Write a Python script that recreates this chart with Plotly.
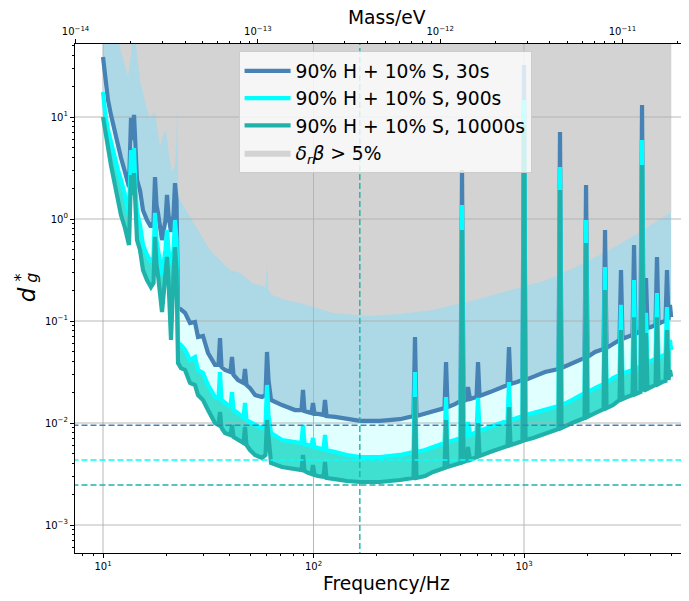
import plotly.graph_objects as go

# ---------------- data ----------------
freq_hz = [10.0, 10.22, 10.56, 10.91, 11.40, 11.78, 12.18, 12.72, 13.29, 13.59,
           13.81, 14.04, 14.27, 14.51, 14.99, 15.49, 16.18, 16.90, 17.38, 17.66,
           17.96, 18.25, 19.07, 19.81, 20.14, 20.47, 21.04, 21.63, 21.98, 22.35,
           22.72, 23.48, 24.53, 25.91, 27.35, 28.27, 29.85, 31.54, 34.04, 35.38,
           35.96, 36.56, 37.98, 40.34, 41.0, 41.69, 43.78, 46.5, 47.27, 48.05,
           49.93, 52.74, 56.92, 59.16, 60.14, 61.13, 62.83, 70.87, 81.69, 87.7,
           89.16, 90.64, 94.2, 97.8, 99.45, 101.1, 105.1, 111.6, 113.4, 115.3,
           126.5, 144.2, 166.3, 207.0, 257.6, 298.6, 303.5, 308.5, 338.6, 369.6,
           419.2, 426.2, 433.3, 470.0, 499.3, 507.6, 516.0, 530.3, 542.0, 554.0,
           594.9, 604.8, 614.8, 689.5, 769.1, 834.9, 848.7, 862.9, 926.2, 983.7,
           1000, 1016.5, 1104, 1258.6, 1458.6, 1482.5, 1506.8, 1690.4, 1939, 1971,
           2003.9, 2174.7, 2386.6, 2426, 2466, 2647.6, 2842.3, 2889, 2937, 3086,
           3277, 3332, 3386, 3480, 3576, 3636, 3696, 3736, 3798, 3861,
           4011, 4214, 4283, 4355, 4524, 4700, 4778, 4858, 4938, 5000]

d_30s = [38.7, 24.1, 14.7, 10.5, 7.13, 4.97, 3.96, 2.89, 2.06, 9.8,
         5.95, 10.5, 3.79, 2.41, 1.92, 1.22, 0.977, 0.835, 0.935, 2.58,
         1.37, 1.15, 0.622, 0.977, 1.72, 1.09, 0.746, 1.09, 2.25, 1.53,
         0.137, 0.128, 0.120, 0.0955, 0.0977, 0.0697, 0.0713, 0.0486, 0.0371, 0.0371,
         0.0681, 0.0354, 0.0331, 0.0316, 0.0444, 0.0296, 0.0264, 0.0247, 0.0338, 0.0236,
         0.0220, 0.0188, 0.0180, 0.0188, 0.0497, 0.0264, 0.0168, 0.0150, 0.0134, 0.0134,
         0.0211, 0.0131, 0.0128, 0.0125, 0.0157, 0.0123, 0.0123, 0.0120, 0.0168, 0.0117,
         0.0115, 0.0109, 0.0105, 0.0105, 0.0109, 0.0117, 0.0697, 0.0117, 0.0123, 0.0128,
         0.0140, 0.0396, 0.0143, 0.0153, 0.0164, 3.02, 0.0164, 0.0168, 0.0225, 0.0172,
         0.0180, 0.0396, 0.0184, 0.0201, 0.0220, 0.0236, 0.0556, 0.0241, 0.0252, 0.0264,
         32.4, 0.0264, 0.0283, 0.0316, 0.0338, 7.13, 0.0346, 0.0387, 0.0434, 2.15,
         0.0444, 0.0497, 0.0531, 0.780, 0.0543, 0.0595, 0.0651, 0.316, 0.0667, 0.0697,
         0.0729, 0.556, 0.0746, 0.0763, 0.0798, 13.1, 0.0817, 0.0836, 0.264, 0.0854,
         0.0874, 0.0914, 0.424, 0.0935, 0.0977, 0.100, 0.316, 0.102, 0.144, 0.109]

d_900s = [17.6, 11.2, 7.46, 5.56, 4.06, 3.02, 2.41, 1.72, 1.09, 4.74,
          3.16, 4.97, 1.92, 1.17, 0.873, 0.556, 0.444, 0.378, 0.424, 1.15,
          0.622, 0.520, 0.282, 0.497, 0.780, 0.497, 0.354, 0.497, 0.977, 0.622,
          0.0608, 0.0582, 0.0520, 0.0415, 0.0444, 0.0331, 0.0309, 0.0236, 0.0180, 0.0176,
          0.0316, 0.0168, 0.0157, 0.0143, 0.0201, 0.0134, 0.0125, 0.0112, 0.0157, 0.0107,
          0.0102, 0.00955, 0.00893, 0.00955, 0.0236, 0.0120, 0.00798, 0.00681, 0.00652, 0.00637,
          0.00955, 0.00622, 0.00608, 0.00595, 0.00713, 0.00582, 0.00569, 0.00556, 0.00762, 0.00543,
          0.00520, 0.00486, 0.00464, 0.00464, 0.00486, 0.00520, 0.0316, 0.00520, 0.00543, 0.00582,
          0.00637, 0.0180, 0.00652, 0.00681, 0.00713, 1.37, 0.00729, 0.00746, 0.0102, 0.00762,
          0.00817, 0.0176, 0.00835, 0.00914, 0.00977, 0.0105, 0.0252, 0.0107, 0.0112, 0.0117,
          14.7, 0.0120, 0.0125, 0.0134, 0.0147, 3.24, 0.0150, 0.0168, 0.0197, 0.977,
          0.0201, 0.0220, 0.0241, 0.338, 0.0247, 0.0276, 0.0296, 0.144, 0.0302, 0.0316,
          0.0331, 0.252, 0.0338, 0.0346, 0.0362, 5.95, 0.0371, 0.0379, 0.120, 0.0387,
          0.0406, 0.0424, 0.188, 0.0434, 0.0454, 0.0475, 0.137, 0.0497, 0.0651, 0.0520]

d_10000s = [10.0, 7.46, 4.97, 3.38, 2.15, 1.53, 1.09, 0.817, 0.556, 2.70,
            1.72, 2.82, 1.09, 0.622, 0.497, 0.316, 0.252, 0.215, 0.236, 0.667,
            0.354, 0.282, 0.1225, 0.252, 0.424, 0.252, 0.0651, 0.282, 0.531, 0.316,
            0.0387, 0.0346, 0.0331, 0.0247, 0.0236, 0.0188, 0.0168, 0.0134, 0.0100, 0.00955,
            0.0128, 0.00893, 0.00798, 0.00762, 0.00955, 0.00729, 0.00681, 0.00637, 0.00914, 0.00608,
            0.00543, 0.00486, 0.00454, 0.00486, 0.0107, 0.00681, 0.00405, 0.00370, 0.00354, 0.00346,
            0.00486, 0.00338, 0.00324, 0.00316, 0.00387, 0.00309, 0.00302, 0.00296, 0.00415, 0.00289,
            0.00282, 0.00270, 0.00264, 0.00264, 0.00276, 0.00289, 0.0180, 0.00289, 0.00302, 0.00331,
            0.00362, 0.0107, 0.00370, 0.00387, 0.00405, 0.780, 0.00415, 0.00424, 0.00582, 0.00434,
            0.00464, 0.0100, 0.00475, 0.00520, 0.00556, 0.00595, 0.0143, 0.00608, 0.00637, 0.00667,
            8.35, 0.00681, 0.00713, 0.00780, 0.00873, 1.92, 0.00893, 0.0100, 0.0112, 0.582,
            0.0115, 0.0125, 0.0137, 0.201, 0.0140, 0.0150, 0.0168, 0.0817, 0.0172, 0.0180,
            0.0188, 0.109, 0.0192, 0.0197, 0.0201, 3.38, 0.0206, 0.0211, 0.0763, 0.0216,
            0.0225, 0.0236, 0.109, 0.0241, 0.0252, 0.0258, 0.0817, 0.0264, 0.0331, 0.0283]

# lower edge of the "delta_r beta > 5%" region
freq_gray = [11.91, 12.58, 13.15, 13.59, 13.73, 14.19, 14.43, 14.99, 15.49, 16.18,
             16.73, 17.66, 18.05, 18.66, 19.28, 19.92, 20.58, 21.27, 21.98, 22.35,
             22.46, 22.59, 22.84, 23.99, 25.91, 28.89, 32.2, 34.8, 40.1, 44.75,
             51.05, 59.16, 60.14, 61.13, 63.5, 73.2, 86.3, 103.9, 123.8, 179.6,
             257.6, 369.6, 480.6, 536, 769.1, 1286, 1845, 2648, 3556, 5000]
gray_edge = [52, 34.6, 24.7, 40.6, 71.3, 71.3, 45.4, 23.1, 17.6, 11.7,
             9.78, 11.2, 7.98, 5.08, 6.67, 7.46, 4.24, 2.82, 3.38, 5.95,
             12.5, 5.95, 1.64, 1.37, 1.05, 0.730, 0.497, 0.424, 0.316, 0.296,
             0.236, 0.215, 0.354, 0.201, 0.180, 0.161, 0.150, 0.134, 0.120, 0.112,
             0.117, 0.128, 0.147, 0.153, 0.188, 0.252, 0.354, 0.520, 0.746, 1.17]

# reference levels (minima) and the frequency of the best sensitivity
min_30s = 0.0095
min_900s = 0.00434
min_10000s = 0.00247
f_best = 166.0

names = ["90% H + 10% S, 30s", "90% H + 10% S, 900s", "90% H + 10% S, 10000s"]
gray_name = "<i>δ<sub>r</sub>β</i> > 5%"

x_ticks = [10, 100, 1000]
x_ticktext = ["10<sup>1</sup>", "10<sup>2</sup>", "10<sup>3</sup>"]
y_ticks = [1e-3, 1e-2, 1e-1, 1, 10]
y_ticktext = ["10<sup>−3</sup>", "10<sup>−2</sup>", "10<sup>−1</sup>", "10<sup>0</sup>", "10<sup>1</sup>"]
mass_ticks = [1e-14, 1e-13, 1e-12, 1e-11]
mass_ticktext = ["10<sup>−14</sup>", "10<sup>−13</sup>", "10<sup>−12</sup>", "10<sup>−11</sup>"]

# ---------------- styling ----------------
C30, C900, C1e4 = "#4682B4", "#00FFFF", "#20B2AA"
FONT = "DejaVu Sans"
ceiling = 1e4
GRID = "#b0b0b0"

fig = go.Figure()

# filled bands
fig.add_trace(go.Scatter(x=freq_hz, y=[ceiling] * len(freq_hz), mode="lines",
                         line=dict(width=0), showlegend=False, hoverinfo="skip"))
fig.add_trace(go.Scatter(x=freq_hz, y=d_30s, mode="lines", line=dict(width=0),
                         fill="tonexty", fillcolor="#ADD8E6", showlegend=False, hoverinfo="skip"))
fig.add_trace(go.Scatter(x=freq_hz, y=d_900s, mode="lines", line=dict(width=0),
                         fill="tonexty", fillcolor="#E0FFFF", showlegend=False, hoverinfo="skip"))
fig.add_trace(go.Scatter(x=freq_hz, y=d_10000s, mode="lines", line=dict(width=0),
                         fill="tonexty", fillcolor="#40E0D0", showlegend=False, hoverinfo="skip"))
fig.add_trace(go.Scatter(x=freq_gray, y=[ceiling] * len(freq_gray), mode="lines",
                         line=dict(width=0), showlegend=False, hoverinfo="skip"))
fig.add_trace(go.Scatter(x=freq_gray, y=gray_edge, mode="lines", line=dict(width=0),
                         fill="tonexty", fillcolor="#D3D3D3", name=gray_name,
                         legendrank=4, hoverinfo="skip"))

# grid lines (drawn above the fills, below the curves, as in the reference)
for xv in x_ticks:
    fig.add_trace(go.Scatter(x=[xv, xv], y=[1e-5, 1e4], mode="lines",
                             line=dict(color=GRID, width=0.9), showlegend=False, hoverinfo="skip"))
for yv in y_ticks:
    fig.add_trace(go.Scatter(x=[1, 1e5], y=[yv, yv], mode="lines",
                             line=dict(color=GRID, width=0.9), showlegend=False, hoverinfo="skip"))

# curves
for vals, col, nm, rk in [(d_30s, C30, names[0], 1), (d_900s, C900, names[1], 2),
                          (d_10000s, C1e4, names[2], 3)]:
    fig.add_trace(go.Scatter(x=freq_hz, y=vals, mode="lines", name=nm, legendrank=rk,
                             line=dict(color=col, width=4.2)))

# dashed reference lines
for lev, col in [(min_30s, C30), (min_900s, C900), (min_10000s, C1e4)]:
    fig.add_trace(go.Scatter(x=[1, 1e5], y=[lev, lev], mode="lines",
                             line=dict(color=col, width=1.4, dash="6px,3px"),
                             showlegend=False, hoverinfo="skip"))
fig.add_trace(go.Scatter(x=[f_best, f_best], y=[1e-5, 1e4], mode="lines",
                         line=dict(color=C1e4, width=1.4, dash="6px,3px"),
                         showlegend=False, hoverinfo="skip"))

# top (mass) axis carrier
fig.add_trace(go.Scatter(x=mass_ticks, y=[None] * len(mass_ticks), xaxis="x2", mode="markers",
                         marker=dict(opacity=0), showlegend=False, hoverinfo="skip"))

minor_x = [k * 10 ** n for n in range(0, 4) for k in range(2, 10)]
minor_y = [k * 10.0 ** n for n in range(-4, 2) for k in range(2, 10)]
minor_m = [k * 10.0 ** n for n in range(-15, -10) for k in range(2, 10)]

axis_common = dict(showgrid=False, zeroline=False, showline=True, linecolor="black",
                   linewidth=1.1, ticks="outside", ticklen=4, tickwidth=1, tickcolor="black",
                   tickfont=dict(family=FONT, size=10, color="black"), automargin=False)
minor_common = dict(tickmode="array", ticks="outside", ticklen=2, tickcolor="black",
                    showgrid=False)

title_font = dict(family=FONT, size=18.7, color="black")
annotations = [
    dict(text="Frequency/Hz", xref="paper", yref="paper", x=0.508, y=-0.059,
         xanchor="center", yanchor="middle", showarrow=False, font=title_font),
    dict(text="Mass/eV", xref="paper", yref="paper", x=0.508, y=1.052,
         xanchor="center", yanchor="middle", showarrow=False, font=title_font),
    dict(text="<i>d</i>", xref="paper", yref="paper", x=-0.077, y=0.508,
         xanchor="center", yanchor="middle", textangle=-90, showarrow=False,
         font=dict(family=FONT, size=23, color="black")),
    dict(text="*", xref="paper", yref="paper", x=-0.088, y=0.541,
         xanchor="center", yanchor="middle", textangle=-90, showarrow=False,
         font=dict(family=FONT, size=16, color="black")),
    dict(text="<i>g</i>", xref="paper", yref="paper", x=-0.070, y=0.541,
         xanchor="center", yanchor="middle", textangle=-90, showarrow=False,
         font=dict(family=FONT, size=16, color="black")),
]

# page body has an 8px margin: the figure is sized so that it ends at 689x601
fig.update_layout(
    width=681, height=593,
    margin=dict(l=67, r=0, t=36, b=48, autoexpand=False),
    paper_bgcolor="white", plot_bgcolor="white",
    font=dict(family=FONT, color="black"),
    xaxis=dict(type="log", range=[0.867, 3.7838], tickmode="array", tickvals=x_ticks,
               ticktext=x_ticktext, minor=dict(tickvals=minor_x, **minor_common),
               **axis_common),
    xaxis2=dict(type="log", range=[-14.003, -10.635], overlaying="x", side="top", anchor="y",
                tickmode="array", tickvals=mass_ticks, ticktext=mass_ticktext,
                minor=dict(tickvals=minor_m, **minor_common), **axis_common),
    yaxis=dict(type="log", range=[-3.2745, 1.7157], tickmode="array", tickvals=y_ticks,
               ticktext=y_ticktext, minor=dict(tickvals=minor_y, **minor_common),
               **axis_common),
    legend=dict(x=0.505, y=0.986, xanchor="center", yanchor="top",
                bgcolor="rgba(255,255,255,0.8)", bordercolor="#cccccc", borderwidth=1,
                font=dict(family=FONT, size=18.7, color="black"), itemwidth=46,
                traceorder="normal"),
    annotations=annotations,
    showlegend=True,
)

fig.write_html("out.html")
